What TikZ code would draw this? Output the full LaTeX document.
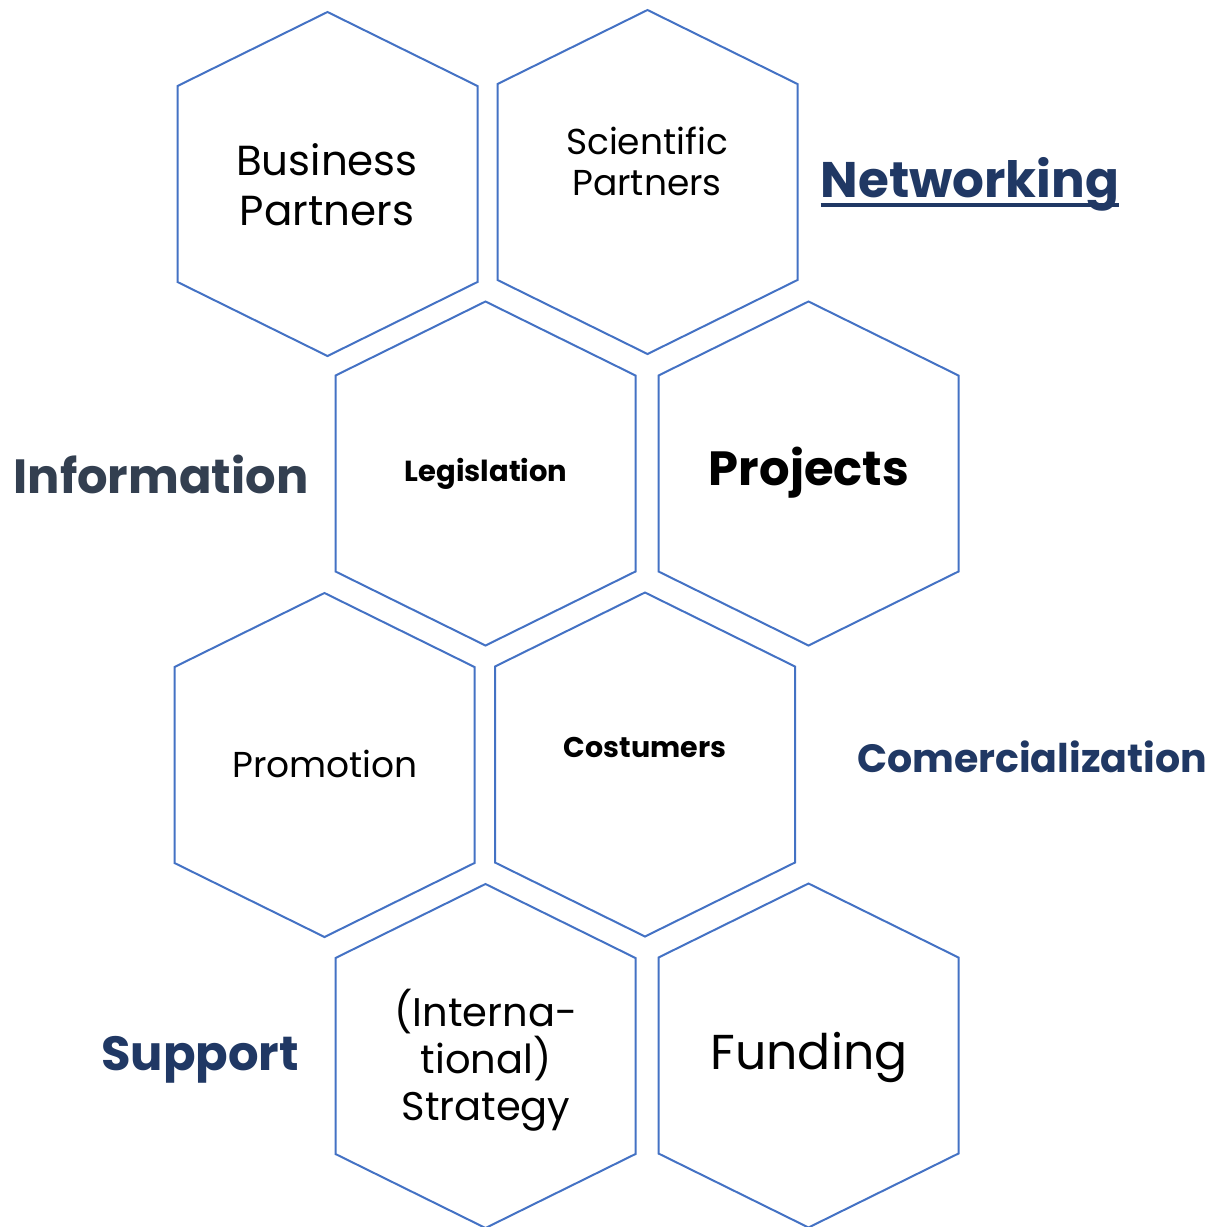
\documentclass[tikz,border=0pt]{standalone}
\usepackage{fontspec}
\setmainfont{Poppins}
\usepackage{xcolor}
\definecolor{hexblue}{HTML}{4472C4}
\definecolor{navy}{HTML}{203864}
\definecolor{slate}{HTML}{333F50}
\begin{document}
\begin{tikzpicture}[x=1pt,y=-1pt,
  hexline/.style={draw=hexblue,line width=2pt,line join=miter},
  inner/.style={align=center,inner sep=0pt,text=black},
  label/.style={inner sep=0pt,font=\bfseries}]
\useasboundingbox (0,0) rectangle (1211,1227);
\newcommand{\hexat}[2]{%
  \draw[hexline,shift={(#1,#2)}] (0,-172) -- (150,-98) -- (150,98) -- (0,172) -- (-150,98) -- (-150,-98) -- cycle;}
\hexat{327.5}{184}
\hexat{647.5}{182}
\hexat{485.5}{473.5}
\hexat{808.5}{473.5}
\hexat{324.5}{765}
\hexat{645}{764.5}
\hexat{485.5}{1056}
\hexat{808.5}{1055.5}
\node[inner,font=\fontsize{42}{50}\selectfont] (bp) at (327,185) {Business\\Partners};
\node[inner,font=\fontsize{36}{41}\selectfont] (sp) at (647,161) {Scientific\\Partners};
\node[inner,font=\fontsize{29}{36}\bfseries] (leg) at (486,474) {Legislation};
\node[inner,font=\fontsize{48}{56}\bfseries] (proj) at (809,473) {Projects};
\node[inner,font=\fontsize{36}{42}\selectfont] (prom) at (325,764) {Promotion};
\node[inner,font=\fontsize{28.5}{36}\bfseries] (cost) at (645,747) {Costumers};
\node[inner,font=\fontsize{40}{47}\selectfont] (strat) at (486,1060) {(Interna-\\tional)\\Strategy};
\node[inner,font=\fontsize{49}{56}\selectfont] (fund) at (809,1057) {Funding};
\node[label,text=navy,font=\fontsize{50}{58}\bfseries] (net) at (970,184) {Networking};
\draw[navy,line width=3.5pt] ([yshift=-8pt]net.base west) -- ([yshift=-8pt]net.base east);
\node[label,text=slate,font=\fontsize{48}{56}\bfseries] (info) at (161,474) {Information};
\node[label,text=navy,font=\fontsize{39.5}{46}\bfseries] (com) at (1032,757) {Comercialization};
\node[label,text=navy,font=\fontsize{48}{56}\bfseries] (sup) at (200,1060) {Support};
\end{tikzpicture}
\end{document}
